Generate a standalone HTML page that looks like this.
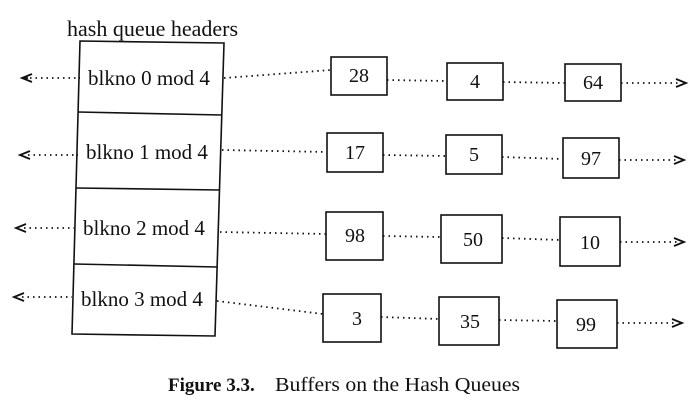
<!DOCTYPE html>
<html><head><style>html,body{margin:0;padding:0;background:#fff}svg{display:block}</style></head>
<body>
<svg width="700" height="416" xmlns="http://www.w3.org/2000/svg" font-family="'Liberation Serif', serif" fill="#111">
<g stroke="#111" stroke-width="1.6" fill="none">
<polygon points="80,41 224,43 215,336 72,334"/>
<line x1="78" y1="112" x2="222" y2="115"/>
<line x1="76" y1="188" x2="220" y2="190"/>
<line x1="74" y1="264" x2="217" y2="267"/>
<rect x="331" y="57" width="56" height="38"/>
<rect x="447" y="63" width="56" height="37"/>
<rect x="565" y="64" width="56" height="37"/>
<rect x="327" y="133" width="56" height="39"/>
<rect x="446" y="135" width="56" height="39"/>
<rect x="563" y="138" width="56" height="40"/>
<rect x="326" y="212" width="57" height="48"/>
<rect x="441" y="215" width="61" height="48"/>
<rect x="560" y="217" width="60" height="49"/>
<rect x="323" y="294" width="58" height="48"/>
<rect x="439" y="297" width="60" height="48"/>
<rect x="557" y="300" width="60" height="48"/>
</g>
<g stroke="#111" stroke-width="1.8" fill="none" stroke-dasharray="1.5 4">
<line x1="30" y1="78" x2="80" y2="78"/>
<line x1="28" y1="155" x2="78" y2="155"/>
<line x1="24" y1="228" x2="74" y2="228"/>
<line x1="22" y1="297" x2="72" y2="297"/>
<line x1="224" y1="78" x2="331" y2="70"/>
<line x1="387" y1="80" x2="447" y2="81"/>
<line x1="503" y1="82" x2="565" y2="83"/>
<line x1="621" y1="83" x2="680" y2="83"/>
<line x1="222" y1="150" x2="327" y2="152"/>
<line x1="383" y1="155" x2="446" y2="156"/>
<line x1="502" y1="157" x2="563" y2="159"/>
<line x1="619" y1="160" x2="678" y2="160"/>
<line x1="220" y1="232" x2="326" y2="234"/>
<line x1="383" y1="236" x2="441" y2="237"/>
<line x1="502" y1="238" x2="560" y2="240"/>
<line x1="620" y1="242" x2="678" y2="242"/>
<line x1="217" y1="301" x2="323" y2="314"/>
<line x1="381" y1="317" x2="439" y2="319"/>
<line x1="499" y1="320" x2="557" y2="321"/>
<line x1="617" y1="323" x2="676" y2="323"/>
</g>
<g stroke="#111" stroke-width="1.8" fill="none">
<polyline points="32,74 22,78 32,82"/><line x1="22" y1="78" x2="28" y2="78"/>
<polyline points="30,151 20,155 30,159"/>
<polyline points="26,224 16,228 26,232"/>
<polyline points="24,293 14,297 24,301"/>
<polyline points="676,79 686,83 676,87"/>
<polyline points="674,156 684,160 674,164"/>
<polyline points="674,238 684,242 674,246"/>
<polyline points="672,319 682,323 672,327"/>
</g>
<g font-size="21">
<text x="67" y="36" font-size="22">hash queue headers</text>
<text x="88" y="85">blkno 0 mod 4</text>
<text x="86" y="159">blkno 1 mod 4</text>
<text x="83" y="235">blkno 2 mod 4</text>
<text x="81" y="306">blkno 3 mod 4</text>
<g text-anchor="middle" font-size="20">
<text x="359" y="82">28</text>
<text x="475" y="88">4</text>
<text x="593" y="89">64</text>
<text x="355" y="159">17</text>
<text x="474" y="161">5</text>
<text x="591" y="165">97</text>
<text x="355" y="242">98</text>
<text x="473" y="246">50</text>
<text x="590" y="249">10</text>
<text x="357" y="325">3</text>
<text x="470" y="328">35</text>
<text x="586" y="331">99</text>
</g>
</g>
<text x="168" y="391" font-size="19" font-weight="bold">Figure 3.3.</text>
<text x="275" y="391" font-size="20" textLength="245" lengthAdjust="spacingAndGlyphs">Buffers on the Hash Queues</text>
</svg>
</body></html>
